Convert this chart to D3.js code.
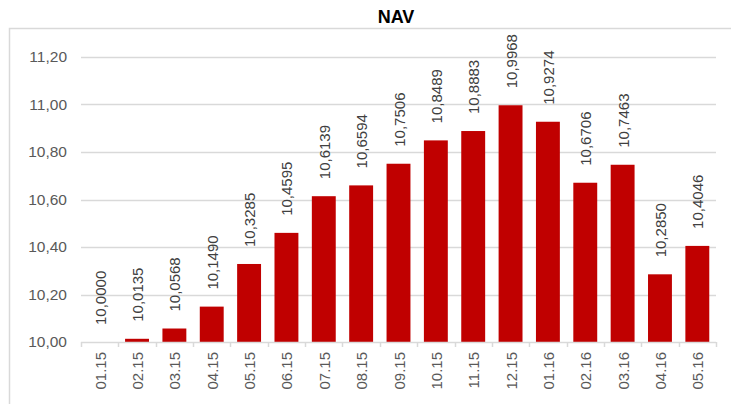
<!DOCTYPE html>
<html>
<head>
<meta charset="utf-8">
<script src="https://cdn.jsdelivr.net/npm/d3@7"></script>
<style>
  body { margin: 0; background: #fff; }
  svg { display: block; font-family: "Liberation Sans", Arial, sans-serif; }
</style>
</head>
<body>
<div id="chart"></div>
<script>
const months = ["01.15", "02.15", "03.15", "04.15", "05.15", "06.15", "07.15", "08.15", "09.15",
  "10.15", "11.15", "12.15", "01.16", "02.16", "03.16", "04.16", "05.16"];
const nav = [10.0000, 10.0135, 10.0568, 10.1490, 10.3285, 10.4595, 10.6139, 10.6594, 10.7506,
  10.8489, 10.8883, 10.9968, 10.9274, 10.6706, 10.7463, 10.2850, 10.4046];
const yTicks = [10.0, 10.2, 10.4, 10.6, 10.8, 11.0, 11.2];

const width = 731, height = 404;
const margin = { top: 57, right: 15, bottom: 62, left: 81 };
const innerW = width - margin.left - margin.right;
const innerH = height - margin.top - margin.bottom;

const fmt = (v, d) => v.toFixed(d).replace(".", ",");

const svg = d3.select("#chart").append("svg")
  .attr("width", width)
  .attr("height", height);

// outer frame
svg.append("rect")
  .attr("x", 9.5).attr("y", 28.5)
  .attr("width", width).attr("height", height)
  .attr("fill", "none")
  .attr("stroke", "#d9d9d9")
  .attr("stroke-width", 1.5);

svg.append("text")
  .attr("x", 396)
  .attr("y", 23)
  .attr("text-anchor", "middle")
  .attr("font-size", 18)
  .attr("font-weight", "bold")
  .attr("fill", "#000")
  .text("NAV");

const g = svg.append("g").attr("transform", `translate(${margin.left},${margin.top})`);

const x = d3.scaleBand().domain(months).range([0, innerW]).paddingInner(0.36).paddingOuter(0.18);
const y = d3.scaleLinear().domain([10.0, 11.2]).range([innerH, 0]);

// gridlines
g.append("g")
  .selectAll("line")
  .data(yTicks.slice(1))
  .join("line")
  .attr("x1", 0).attr("x2", innerW)
  .attr("y1", d => Math.round(y(d)) + 0.5).attr("y2", d => Math.round(y(d)) + 0.5)
  .attr("stroke", "#d9d9d9")
  .attr("stroke-width", 1.5);

// y labels
g.append("g")
  .selectAll("text")
  .data(yTicks)
  .join("text")
  .attr("x", -14)
  .attr("y", d => y(d))
  .attr("dy", "0.35em")
  .attr("text-anchor", "end")
  .attr("font-size", 15.5)
  .attr("fill", "#595959")
  .text(d => fmt(d, 2));

// bars
g.append("g")
  .selectAll("rect")
  .data(nav)
  .join("rect")
  .attr("x", (d, i) => x(months[i]))
  .attr("y", d => y(d))
  .attr("width", x.bandwidth())
  .attr("height", d => y(10.0) - y(d))
  .attr("fill", "#c00000");

// value labels
g.append("g")
  .selectAll("text")
  .data(nav)
  .join("text")
  .attr("transform", (d, i) => `translate(${x(months[i]) + x.bandwidth() / 2 + 6},${y(d) - 17}) rotate(-90)`)
  .attr("text-anchor", "start")
  .attr("font-size", 15)
  .attr("fill", "#404040")
  .text(d => fmt(d, 4));

// x axis line and ticks
g.append("line")
  .attr("x1", 0).attr("x2", innerW)
  .attr("y1", innerH + 0.5).attr("y2", innerH + 0.5)
  .attr("stroke", "#d9d9d9")
  .attr("stroke-width", 1.5);

g.append("g")
  .selectAll("line")
  .data(d3.range(months.length + 1))
  .join("line")
  .attr("x1", i => Math.round(i * innerW / months.length) + 0.5)
  .attr("x2", i => Math.round(i * innerW / months.length) + 0.5)
  .attr("y1", innerH).attr("y2", innerH + 5)
  .attr("stroke", "#d9d9d9")
  .attr("stroke-width", 1.5);

// x labels
g.append("g")
  .selectAll("text")
  .data(months)
  .join("text")
  .attr("transform", d => `translate(${x(d) + x.bandwidth() / 2 + 6},${innerH + 10}) rotate(-90)`)
  .attr("text-anchor", "end")
  .attr("font-size", 15)
  .attr("fill", "#595959")
  .text(d => d);
</script>
</body>
</html>
